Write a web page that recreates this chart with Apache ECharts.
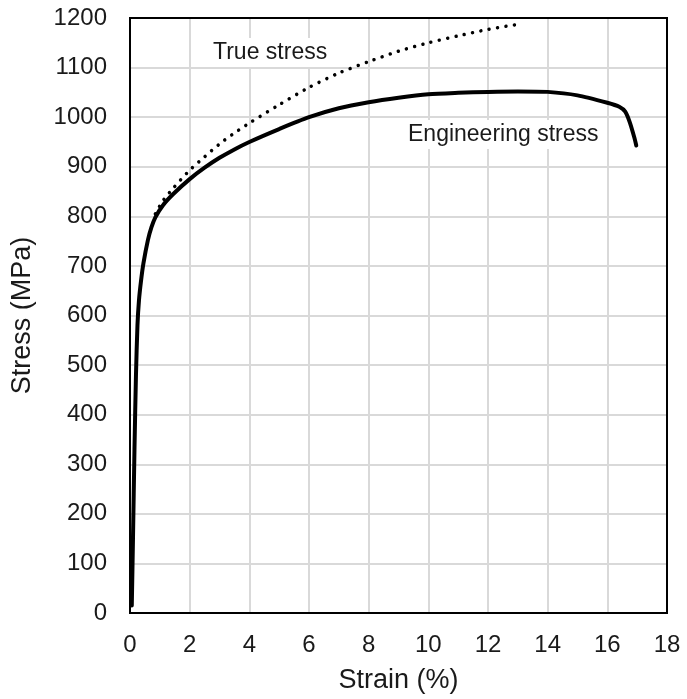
<!DOCTYPE html>
<html>
<head>
<meta charset="utf-8">
<script src="https://cdn.jsdelivr.net/npm/echarts@6/dist/echarts.min.js"></script>
<style>
  html, body { margin: 0; padding: 0; background: #fff; }
  #chart { width: 687px; height: 699px; }
</style>
</head>
<body>
<div id="chart"></div>
<script>
// engineering stress curve, [strain %, stress MPa]
var engStrain = [0.06, 0.1, 0.15, 0.2, 0.25, 0.3, 0.37, 0.45, 0.6, 0.72, 0.85, 1.1, 1.45, 2, 2.5, 3, 3.5, 4, 5, 6, 7, 8, 9, 10, 11, 12, 13, 14, 15, 16, 16.4, 16.6, 16.75, 16.9, 16.97]
var engStress = [15, 150, 330, 480, 580, 630, 670, 705, 752, 778, 798, 822, 845, 875, 898, 918, 935, 950, 976, 1000, 1018, 1030, 1039, 1046, 1049, 1051, 1052, 1051, 1044, 1029, 1021, 1011, 990, 960, 943]
// true stress curve
var trueStrain = [0.85, 1.1, 1.45, 2, 2.5, 3, 3.5, 4, 5, 6, 7, 8, 9, 10, 11, 12, 13]
var trueStress = [805, 831, 857, 893, 920, 946, 968, 988, 1025, 1060, 1089, 1112, 1133, 1150, 1164, 1177, 1187]
var xTicks = [0, 18, 2]
var yTicks = [0, 1200, 100]
var labels = ['True stress', 'Engineering stress']

var FONT = '"Liberation Sans", Arial, sans-serif'
var TEXT = '#1a1a1a'
var chart = echarts.init(document.getElementById('chart'))

function pairs(xs, ys) {
  return xs.map(function(x, i) { return [x, ys[i]] })
}

chart.setOption({
  animation: false,
  grid: {
    left: 130,
    right: 20,
    top: 18,
    bottom: 86,
    show: true,
    borderColor: '#000',
    borderWidth: 2,
    z: 5
  },
  xAxis: {
    type: 'value',
    min: xTicks[0],
    max: xTicks[1],
    interval: xTicks[2],
    name: 'Strain (%)',
    nameLocation: 'middle',
    nameGap: 54,
    nameTextStyle: { color: TEXT, fontSize: 27, fontFamily: FONT },
    axisLine: { show: false },
    axisTick: { show: false },
    axisLabel: { color: TEXT, fontSize: 24, fontFamily: FONT, margin: 20 },
    splitLine: {
      showMinLine: false,
      showMaxLine: false,
      lineStyle: { color: '#d9d9d9', width: 2 }
    }
  },
  yAxis: {
    type: 'value',
    min: yTicks[0],
    max: yTicks[1],
    interval: yTicks[2],
    name: 'Stress (MPa)',
    nameLocation: 'middle',
    nameGap: 94,
    nameTextStyle: { color: TEXT, fontSize: 27, fontFamily: FONT },
    axisLine: { show: false },
    axisTick: { show: false },
    axisLabel: {
      color: TEXT, fontSize: 24, fontFamily: FONT, margin: 23,
      formatter: function(v) { return String(v) }
    },
    splitLine: {
      showMinLine: false,
      showMaxLine: false,
      lineStyle: { color: '#d9d9d9', width: 2 }
    }
  },
  graphic: [
    {
      type: 'text', left: 208, top: 38, z: 10,
      style: { text: labels[0], fill: TEXT, font: '23px ' + FONT, backgroundColor: '#fff', padding: [3, 5] }
    },
    {
      type: 'text', left: 403, top: 120, z: 10,
      style: { text: labels[1], fill: TEXT, font: '23px ' + FONT, backgroundColor: '#fff', padding: [3, 5] }
    }
  ],
  series: [
    {
      type: 'line',
      data: pairs(trueStrain, trueStress),
      smooth: 0.25,
      symbol: 'none',
      z: 3,
      lineStyle: { color: '#000', width: 3.5, type: [0.01, 8.5], cap: 'round' }
    },
    {
      type: 'line',
      data: pairs(engStrain, engStress),
      smooth: 0.25,
      symbol: 'none',
      z: 4,
      lineStyle: { color: '#000', width: 4, cap: 'round', join: 'round' }
    }
  ]
})
</script>
</body>
</html>
